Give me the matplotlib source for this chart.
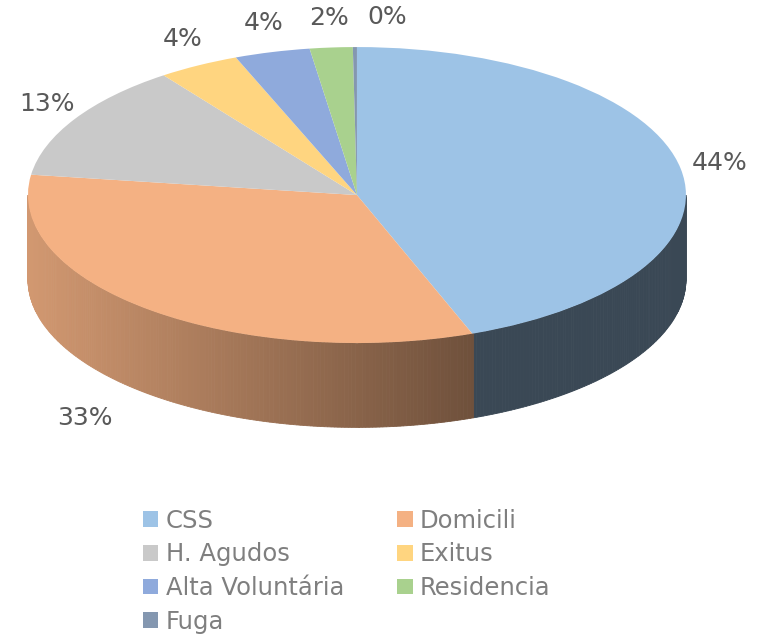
import numpy as np
import matplotlib.pyplot as plt
from matplotlib.patches import Patch
from matplotlib.colors import to_rgb

# Data (share of discharges, %)
categories = ["CSS", "Domicili", "H. Agudos", "Exitus", "Alta Voluntária", "Residencia", "Fuga"]
shares = [44.3, 32.9, 12.8, 4.0, 3.7, 2.1, 0.2]
colors = ["#9DC3E6", "#F4B183", "#C9C9C9", "#FFD580", "#8FAADC", "#A9D18E", "#8497B0"]

DEPTH = 0.57          # thickness of the pie, in y data units
TEXT_COLOR = "#595959"

fig = plt.figure(figsize=(7.58, 6.38), dpi=100)
ax = fig.add_axes([0, 0, 1, 1])

# slice boundaries, clockwise from 12 o'clock (radians)
frac = np.array(shares) / sum(shares)
edges = np.concatenate([[0], np.cumsum(frac)]) * 2 * np.pi

# side wall of the front half, shaded darker to the right
steps = np.linspace(np.pi / 2, 3 * np.pi / 2, 300)
for t1, t2 in zip(steps[:-1], steps[1:]):
    mid = (t1 + t2) / 2
    i = np.searchsorted(edges, mid) - 1
    x1, y1 = np.sin(t1), np.cos(t1)
    x2, y2 = np.sin(t2), np.cos(t2)
    shade = max(0.37, 0.86 - 0.3 * ((x1 + x2) / 2 + 1))
    if i == 0:
        shade = 0.37
    c = tuple(v * shade for v in to_rgb(colors[i]))
    ax.fill([x1, x2, x2, x1], [y1, y2, y2 - DEPTH, y1 - DEPTH],
            color=c, lw=0.6, ec=c, zorder=1)

# top face
wedges, _ = ax.pie(shares, colors=colors, startangle=90, counterclock=False,
                   radius=1, center=(0, 0), wedgeprops=dict(linewidth=0))
for w in wedges:
    w.set_zorder(2)

# percentage labels outside each slice
nudge = [0.02, -0.14, 0, 0, 0, 0, 0.1]
for k, p in enumerate(shares):
    mid = (edges[k] + edges[k + 1]) / 2
    lx = 1.1 * np.sin(mid) + nudge[k]
    ly = 1.2 * np.cos(mid)
    if np.cos(mid) < 0:
        ly -= DEPTH
    ax.text(lx, ly, f"{round(p)}%", ha="center", va="center",
            fontsize=18, color=TEXT_COLOR)

ax.set_aspect("auto")
ax.set_xlim(-1.085, 1.219)
ax.set_ylim(-2.993, 1.318)
ax.axis("off")

# legend, row-wise order like the original (matplotlib fills columns first)
order = [0, 2, 4, 6, 1, 3, 5]
handles = [Patch(facecolor=colors[i], label=categories[i]) for i in order]
fig.legend(handles=handles, ncol=2, loc="upper left", bbox_to_anchor=(0.173, 0.222),
           frameon=False, fontsize=17.5, labelcolor="#7F7F7F",
           handlelength=0.62, handleheight=0.62, handletextpad=0.3,
           columnspacing=2.2, labelspacing=0.4, borderpad=0)

fig.savefig("out.png", dpi=100)
